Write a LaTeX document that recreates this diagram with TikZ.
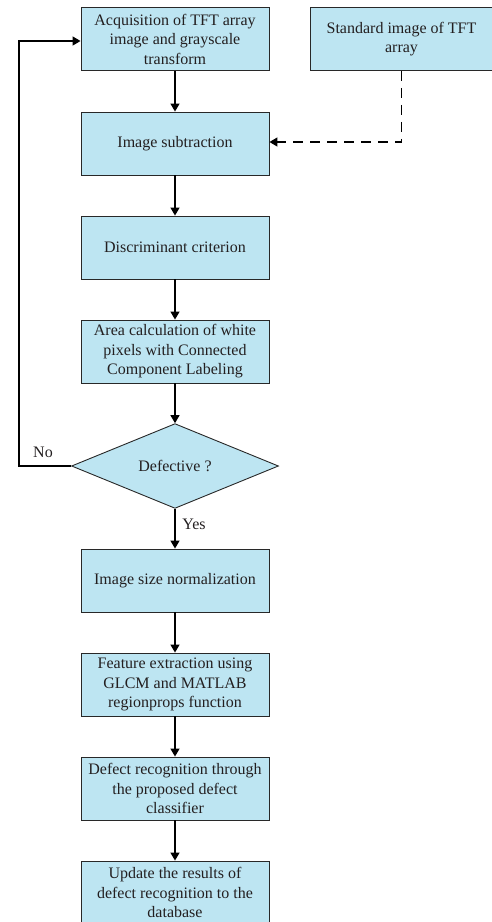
\documentclass[tikz,border=0pt]{standalone}
\usepackage{fontspec}
\setmainfont{Liberation Serif}
\usetikzlibrary{arrows.meta,shapes.geometric}
\definecolor{boxfill}{RGB}{189,229,242}
\definecolor{boxline}{RGB}{40,40,40}
\definecolor{txt}{RGB}{35,31,32}
\begin{document}
\begin{tikzpicture}[x=1pt,y=-1pt,
  stepbox/.style={draw=boxline,line width=0.9pt,fill=boxfill,rectangle,
     minimum width=188pt,minimum height=63pt,inner sep=2pt,align=center,
     text=txt,font=\fontsize{16}{19.5}\selectfont},
  decision/.style={draw=boxline,line width=0.9pt,fill=boxfill,diamond,
     minimum width=207pt,minimum height=82pt,inner sep=0pt,
     text=txt,font=\fontsize{16}{19.5}\selectfont},
  arr/.style={line width=1.4pt,draw=black,-{Triangle[length=8pt,width=9pt]}},
  darr/.style={arr,dash pattern=on 10pt off 7pt},
  lbl/.style={text=txt,font=\fontsize{16}{19.5}\selectfont,inner sep=0pt}]
\useasboundingbox (0,0) rectangle (492,922);
\node[stepbox] (acq) at (175,39) {Acquisition of TFT array\\image and grayscale\\transform};
\node[stepbox,minimum width=182pt] (std) at (401.5,39) {Standard image of TFT\\array};
\node[stepbox] (sub) at (175,143.5) {Image subtraction};
\node[stepbox] (disc) at (175,247.5) {Discriminant criterion};
\node[stepbox] (area) at (175,351.5) {Area calculation of white\\pixels with Connected\\Component Labeling};
\node[decision] (dia) at (175,466) {Defective ?};
\node[stepbox] (norm) at (175,580.5) {Image size normalization};
\node[stepbox] (feat) at (175,684.5) {Feature extraction using\\GLCM and MATLAB\\regionprops function};
\node[stepbox] (rec) at (175,788.5) {Defect recognition through\\the proposed defect\\classifier};
\node[stepbox] (upd) at (175,892.5) {Update the results of\\defect recognition to the\\database};
\coordinate (lp) at (19,466);
\draw[arr] (acq) -- (sub);
\draw[arr] (sub) -- (disc);
\draw[arr] (disc) -- (area);
\draw[arr] (area) -- (dia);
\draw[arr] (dia) -- (norm);
\draw[arr] (norm) -- (feat);
\draw[arr] (feat) -- (rec);
\draw[arr] (rec) -- (upd);
\draw[arr] (dia.west) -- (lp) |- ([yshift=-2pt]acq.west);
\draw[darr] (std.south) |- ([yshift=1.5pt]sub.east);
\node[lbl] (no) at (43,452) {No};
\node[lbl] (yes) at (194,524) {Yes};
\end{tikzpicture}
\end{document}
